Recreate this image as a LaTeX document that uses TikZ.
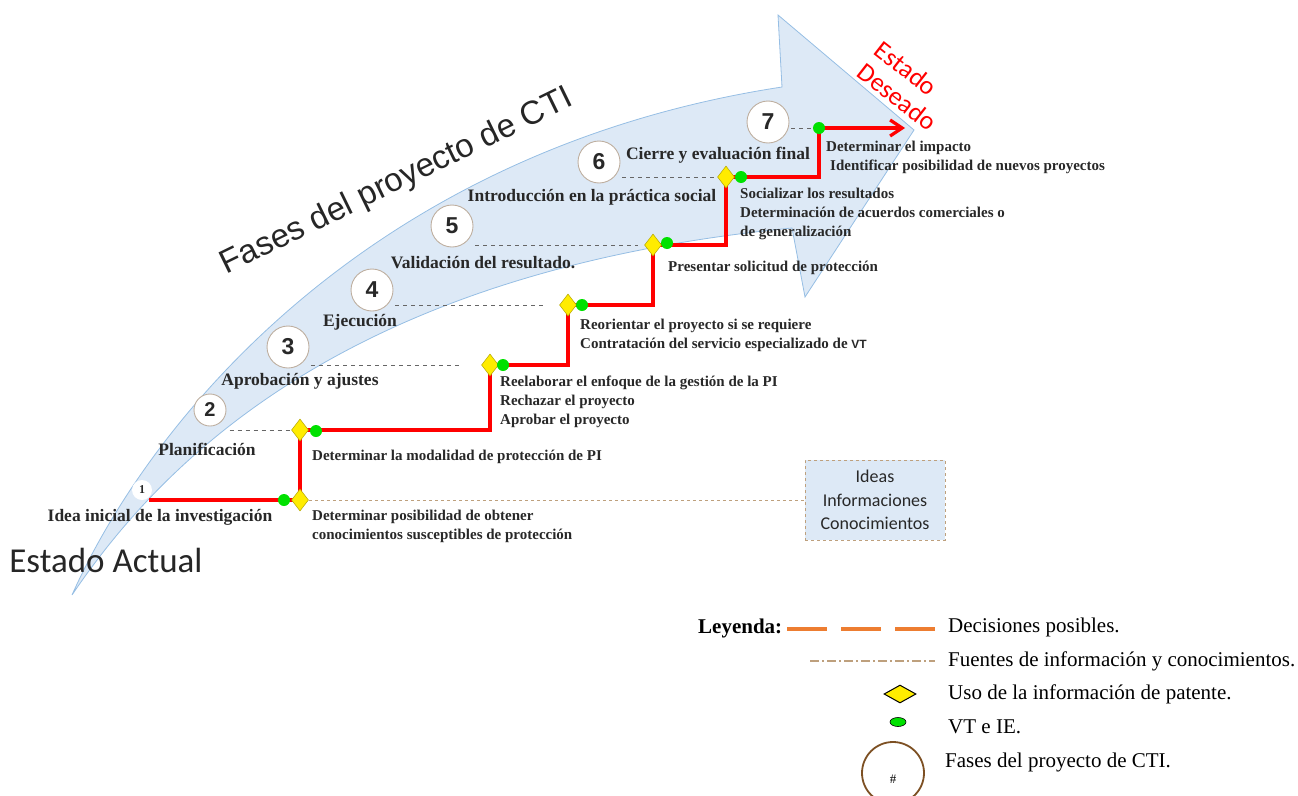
\documentclass[tikz,border=0pt]{standalone}
\usepackage{fontspec}
\setmainfont{Liberation Serif}
\newfontfamily\arial{Liberation Sans}
\newfontfamily\calibri{Carlito}
\usetikzlibrary{shapes.geometric,arrows.meta,backgrounds}
\definecolor{fondo}{RGB}{221,233,246}
\definecolor{borde}{RGB}{150,190,228}
\definecolor{texto}{RGB}{40,40,40}
\definecolor{rojo}{RGB}{255,0,0}
\definecolor{amarillo}{RGB}{255,236,0}
\definecolor{verde}{RGB}{0,225,0}
\definecolor{naranja}{RGB}{237,125,49}
\definecolor{tostado}{RGB}{190,160,125}
\definecolor{marron}{RGB}{125,80,35}
\definecolor{aro}{RGB}{190,175,160}
\newcommand{\tam}[2]{\fontsize{#1}{#2}\selectfont}

\begin{document}
\begin{tikzpicture}[x=1pt,y=-1pt,
  every node/.style={inner sep=0pt,text=texto},
  fase/.style={circle,draw=aro,line width=0.9pt,fill=white,minimum size=42pt,font=\arial\bfseries\tam{23}{23}},
  etapa/.style={font=\bfseries\tam{17.5}{21}},
  accion/.style={anchor=west,align=left,font=\bfseries\tam{15}{19}},
  uso/.style={diamond,fill=amarillo,draw=amarillo!70!black,line width=0.5pt,minimum width=17pt,minimum height=22pt},
  vt/.style={circle,fill=verde,minimum size=12pt},
  guia/.style={gray!80!black,dash pattern=on 4pt off 4pt,line width=0.9pt,shorten <=8pt},
  ruta/.style={rojo,line width=3.2pt},
  leyenda/.style={anchor=west,font=\tam{21}{24},text=black}]
\useasboundingbox (0,0) rectangle (1298,795);
% big curved arrow from the current state to the desired one
\begin{scope}[on background layer]
\draw[draw=borde,fill=fondo,line width=0.8pt] (72,595) .. controls (150,420) and (370,150) .. (782,87) -- (778,15) -- (914,130) -- (805,297) -- (792,228) .. controls (360,270) and (170,450) .. (72,595) -- cycle;
\end{scope}
\node[font=\arial\tam{33}{33},rotate=26,text=black!85] (titulo) at (397,182) {Fases del proyecto de CTI};
\node[font=\calibri\tam{35}{35},text=black!85] (actual) at (106,560) {Estado Actual};
\node[font=\calibri\tam{26}{28},text=rojo,rotate=-38,align=left] (deseado) at (906,86) {Estado\\Deseado};
% phases
\node[fase,minimum size=20pt,draw=none,font=\bfseries\tam{12}{12}] (f1) at (142,490) {1};
\node[fase,minimum size=32pt,font=\arial\bfseries\tam{20}{20}] (f2) at (210,410) {2};
\node[fase] (f3) at (288,347) {3};
\node[fase] (f4) at (372,290) {4};
\node[fase] (f5) at (452,226) {5};
\node[fase] (f6) at (599,162) {6};
\node[fase] (f7) at (768,122) {7};
\node[etapa] (e1) at (160,517) {Idea inicial de la investigación};
\node[etapa] (e2) at (207,449) {Planificación};
\node[etapa] (e3) at (300,381) {Aprobación y ajustes};
\node[etapa] (e4) at (360,322) {Ejecución};
\node[etapa] (e5) at (483,263) {Validación del resultado.};
\node[etapa] (e6) at (592,197) {Introducción en la práctica social};
\node[etapa] (e7) at (718,155) {Cierre y evaluación final};
% patent information use and VT e IE
\node[uso] (d1) at (300,500) {};
\node[uso] (d2) at (300,430) {};
\node[uso] (d3) at (490,365) {};
\node[uso] (d4) at (568,305) {};
\node[uso] (d5) at (653,245) {};
\node[uso] (d6) at (726,177) {};
\node[vt] (v1) at (284,500) {};
\node[vt] (v2) at (316,431) {};
\node[vt] (v3) at (503,365) {};
\node[vt] (v4) at (582,305) {};
\node[vt] (v5) at (667,243) {};
\node[vt] (v6) at (741,177) {};
\node[vt] (v7) at (819,128) {};
\coordinate (fin) at (905,128);
% possible decisions
\node[accion] (a1) at (312,526) {Determinar posibilidad de obtener\\conocimientos susceptibles de protección};
\node[accion] (a2) at (312,457) {Determinar la modalidad de protección de PI};
\node[accion] (a3) at (500,402) {Reelaborar el enfoque de la gestión de la PI\\Rechazar el proyecto\\Aprobar el proyecto};
\node[accion] (a4) at (580,335) {Reorientar el proyecto si se requiere\\Contratación del servicio especializado de {\arial\bfseries\tam{12}{12}VT}};
\node[accion] (a5) at (668,268) {Presentar solicitud de protección};
\node[accion] (a6) at (740,214) {Socializar los resultados\\Determinación de acuerdos comerciales o\\de generalización};
\node[accion] (a7) at (826,157) {Determinar el impacto\\\hspace{4pt}Identificar posibilidad de nuevos proyectos};
\node[draw=tostado,dashed,line width=0.9pt,fill=fondo,minimum width=140pt,minimum height=80pt,align=center,font=\calibri\tam{18}{23.5}] (ideas) at (875,500) {Ideas\\Informaciones\\Conocimientos};
% lines under the marks
\begin{scope}[on background layer]
\draw[ruta,-{Straight Barb[length=12pt,width=16pt]}] (f1.south east |- d1) -- (d1.center) -- (d2.center) -| (d3.center) -| (d4.center) -| (d5.center) -| (d6.center) -| (v7.center) -- (fin);
\draw[guia] (f2.south east |- d2) -- (d2.west);
\draw[guia,shorten >=22pt] (f3.south east |- d3) -- (d3.west);
\draw[guia,shorten >=14pt] (f4.south east |- d4) -- (d4.west);
\draw[guia,shorten >=6pt] (f5.south east |- d5) -- (d5.west);
\draw[guia] (f6.south east |- d6) -- (d6.west);
\draw[guia] (f7.south east |- v7) -- (v7.west);
\draw[tostado,dashed,line width=0.9pt] (d1.east) -- (d1.east -| ideas.west);
\end{scope}
% legend
\node[font=\bfseries\tam{21}{24},text=black,anchor=west] (ley) at (698,628) {Leyenda:};
\node[leyenda] (l1) at (948,627) {Decisiones posibles.};
\node[leyenda] (l2) at (948,661) {Fuentes de información y conocimientos.};
\node[leyenda] (l3) at (948,694) {Uso de la información de patente.};
\node[leyenda] (l4) at (948,727) {VT e IE.};
\node[leyenda] (l5) at (945,762) {Fases del proyecto de CTI.};
\draw[naranja,line width=3.5pt,dash pattern=on 40pt off 14pt] (787,629) -- (935,629);
\draw[tostado,line width=1.3pt,dash pattern=on 9pt off 3pt on 2pt off 3pt] (810,661) -- (935,661);
\node[uso,draw=black,line width=1pt,minimum width=32pt,minimum height=18pt] (m3) at (900,694) {};
\node[ellipse,fill=verde,draw=black,line width=0.6pt,minimum width=16pt,minimum height=9pt] (m4) at (898,722) {};
\node[circle,draw=marron,line width=1.8pt,minimum size=62pt] (m5) at (893,773) {};
\node[font=\tam{13}{13},text=black] (m5n) at (893,779) {\#};
\end{tikzpicture}
\end{document}
